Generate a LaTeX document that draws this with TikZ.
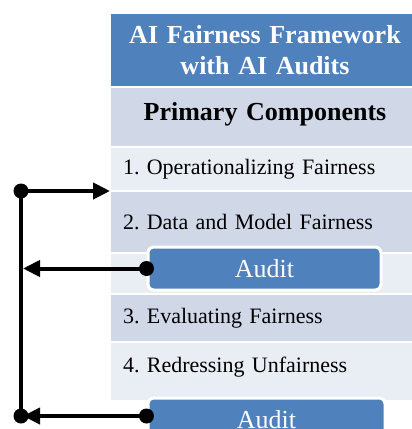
\documentclass[tikz,border=0pt]{standalone}
\usepackage{fontspec}
\setmainfont{Liberation Serif}
\usetikzlibrary{arrows.meta, positioning}

\definecolor{hdblue}{HTML}{4F81BD}
\definecolor{bandmid}{HTML}{D0D8E8}
\definecolor{bandlight}{HTML}{E9EDF4}
\frenchspacing

\begin{document}
\begin{tikzpicture}[x=1pt, y=-1pt,
        band/.style={draw=white, line width=2pt, outer sep=0pt, minimum width=310pt,
                text width=284pt, inner xsep=13pt, align=left,
                font=\fontsize{22}{26}\selectfont},
        head/.style={band, align=center, font=\bfseries\fontsize{26}{31}\selectfont},
        audit/.style={draw=white, line width=3pt, fill=hdblue, rounded corners=6pt,
                minimum height=43pt, text=white, font=\fontsize{26}{30}\selectfont},
        link/.style={line width=4pt, -{Triangle[length=17pt, width=16pt]}},
        dot/.style={circle, fill, inner sep=0pt, minimum size=15pt}]
        \useasboundingbox (0,0) rectangle (412,429);
        \clip (0,0) rectangle (412,429);

        % the table
        \node (title) [head, fill=hdblue, text=white, minimum height=74pt, anchor=north west] at (110,13) {AI Fairness Framework\\with AI Audits};
        \node (comp) [head, fill=bandmid, minimum height=60pt, text depth=11pt, below=0pt of title] {Primary Components};
        \node (r1) [band, fill=bandlight, minimum height=44pt, below=0pt of comp] {1. Operationalizing Fairness};
        \node (r2) [band, fill=bandmid, minimum height=62pt, below=0pt of r1] {2. Data and Model Fairness};
        \node (gap) [band, fill=bandlight, minimum height=41pt, below=0pt of r2] {};
        \node (r3) [band, fill=bandmid, minimum height=48pt, below=0pt of gap] {3. Evaluating Fairness};
        \node (r4) [band, fill=bandlight, minimum height=59pt, text depth=14pt, below=0pt of r3] {4. Redressing Unfairness};

        % audits
        \node (audit1) [audit, minimum width=233pt] at (264.5,268.5) {Audit};
        \node (audit2) [audit, minimum width=237pt] at (266.5,419.5) {Audit};

        % feedback loop
        \node (top) [dot] at (21,191) {};
        \node (bot) [dot] at (21,416) {};
        \node (a1) [dot] at (audit1.west) {};
        \node (a2) [dot] at (audit2.west |- bot) {};
        \draw [line width=4pt] (top.center) -- (bot.center);
        \draw [link] (top.center) -- (top -| r1.west);
        \draw [link, shorten >=2pt] (a1.center) -- (a1 -| top);
        \draw [link, shorten >=2pt] (a2.center) -- (bot.center);
\end{tikzpicture}
\end{document}
